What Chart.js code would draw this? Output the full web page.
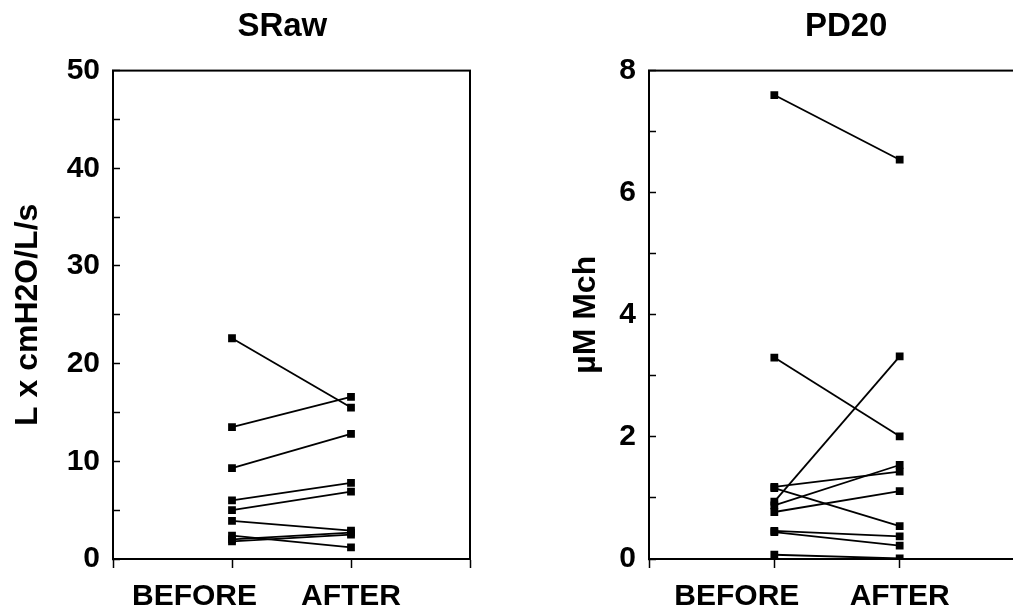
<!DOCTYPE html>
<html>
<head>
<meta charset="utf-8">
<script src="https://cdn.jsdelivr.net/npm/chart.js@4.4.0/dist/chart.umd.min.js"></script>
<style>
  html, body { margin: 0; padding: 0; background: #fff; overflow: hidden; width: 1013px; height: 614px; position: relative; }
  canvas { position: absolute; top: 0; }
  #srawChart { left: 0; }
  #pd20Chart { left: 500px; }
</style>
</head>
<body>
<canvas id="srawChart" width="560" height="614"></canvas>
<canvas id="pd20Chart" width="700" height="614"></canvas>
<script>
// x categories (empty slots are the frame edges)
const phases = ['', 'BEFORE', 'AFTER', ''];

// SRaw (L x cmH2O/L/s), one pair per subject
const srawBefore = [22.6, 13.5, 9.3, 6.0, 5.0, 3.9, 2.4, 2.0, 1.8];
const srawAfter  = [15.5, 16.6, 12.8, 7.8, 6.9, 2.9, 1.2, 2.7, 2.5];
const srawTicks  = [0, 10, 20, 30, 40, 50];

// PD20 (uM Mch), one pair per subject
const pd20Before = [7.6, 3.3, 1.18, 1.16, 0.94, 0.88, 0.77, 0.46, 0.44, 0.07];
const pd20After  = [6.54, 2.01, 1.43, 0.54, 3.32, 1.54, 1.11, 0.37, 0.22, 0.01];
const pd20Ticks  = [0, 2, 4, 6, 8];

const FONT = "'Liberation Sans', Arial, Helvetica, sans-serif";
const NBSP = '\u00a0';

// box around the plot area
const framePlugin = {
    id: 'frame',
    afterDraw(chart) {
        const { ctx, chartArea: a } = chart;
        ctx.save();
        ctx.strokeStyle = '#000';
        ctx.lineWidth = 2;
        ctx.strokeRect(a.left, a.top, a.right - a.left, a.bottom - a.top);
        ctx.restore();
    }
};

function pairDatasets(before, after) {
    return before.map((b, i) => ({
        data: [{ x: phases[1], y: b }, { x: phases[2], y: after[i] }],
        borderColor: '#000',
        backgroundColor: '#000',
        borderWidth: 1.8,
        pointStyle: 'rect',
        pointRadius: 5.5,
        pointBorderWidth: 0
    }));
}

function makeChart(id, cfg) {
    const ctx = document.getElementById(id).getContext('2d');
    return new Chart(ctx, {
        type: 'line',
        data: {
            labels: phases,
            datasets: pairDatasets(cfg.before, cfg.after)
        },
        options: {
            responsive: false,
            animation: false,
            devicePixelRatio: 1,
            layout: { padding: { left: 0, right: cfg.padRight, top: 0, bottom: 0 } },
            plugins: {
                legend: { display: false },
                tooltip: { enabled: false },
                title: {
                    display: true,
                    fullSize: false,
                    text: cfg.title,
                    color: '#000',
                    font: { family: FONT, size: 33, weight: 'bold' },
                    padding: { top: 7, bottom: 24 }
                }
            },
            scales: {
                x: {
                    type: 'category',
                    offset: false,
                    border: { color: '#000', width: 2 },
                    grid: { drawOnChartArea: false, color: '#000', tickLength: 9, tickWidth: 1.5 },
                    ticks: {
                        color: '#000',
                        padding: 11,
                        maxRotation: 0,
                        autoSkip: false,
                        font: { family: FONT, size: 30, weight: 'bold' },
                        // the original sets BEFORE a bit left of its tick
                        callback: (v, i) => i === 1 ? phases[i] + NBSP.repeat(9) : phases[i]
                    },
                    afterFit: s => { s.height = 55; }
                },
                y: {
                    min: 0,
                    max: cfg.max,
                    border: { color: '#000', width: 2 },
                    // negative length puts the tick marks inside the frame
                    grid: { drawOnChartArea: false, color: '#000', tickLength: -7, tickWidth: 1.5 },
                    ticks: {
                        stepSize: cfg.step,
                        color: '#000',
                        padding: 20,
                        font: { family: FONT, size: 30, weight: 'bold' },
                        callback: v => cfg.ticks.includes(v) ? String(v) : ''
                    },
                    title: {
                        display: true,
                        text: cfg.yTitle,
                        color: '#000',
                        font: { family: FONT, size: 32, weight: 'bold' },
                        padding: { top: cfg.yTitlePad, bottom: 0 }
                    },
                    afterFit: s => { s.width = cfg.yWidth; }
                }
            }
        },
        plugins: [framePlugin]
    });
}

makeChart('srawChart', {
    title: 'SRaw' + NBSP + NBSP,
    yTitle: 'L x cmH2O/L/s',
    before: srawBefore,
    after: srawAfter,
    max: 50,
    step: 5,
    ticks: srawTicks,
    yWidth: 113,
    yTitlePad: 9,
    padRight: 90
});

makeChart('pd20Chart', {
    title: NBSP + NBSP + 'PD20',
    yTitle: 'µM Mch',
    before: pd20Before,
    after: pd20After,
    max: 8,
    step: 1,
    ticks: pd20Ticks,
    yWidth: 149,
    yTitlePad: 67,
    padRight: 175
});
</script>
</body>
</html>
